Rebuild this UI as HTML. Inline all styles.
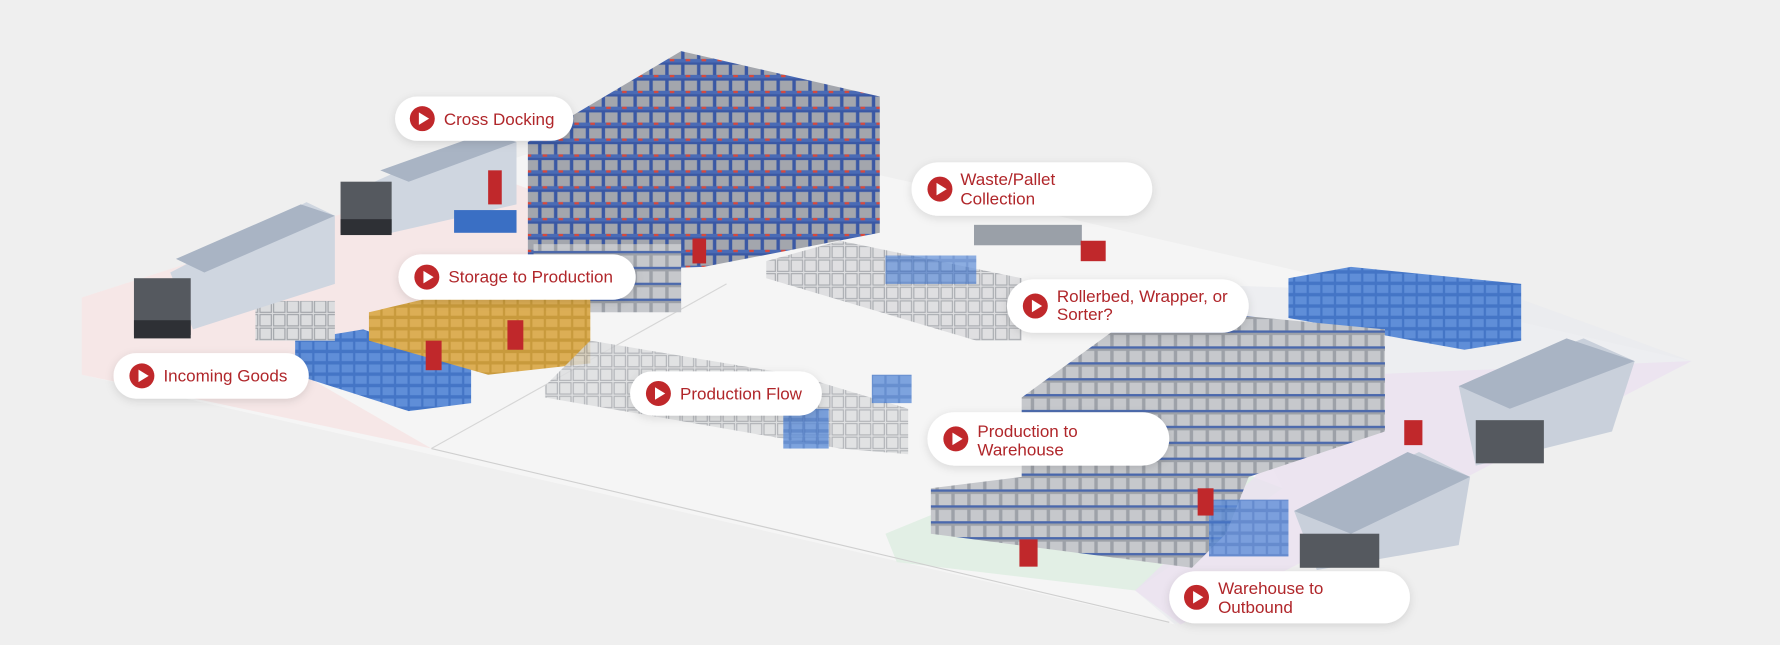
<!DOCTYPE html>
<html><head><meta charset="utf-8"><style>
html,body{margin:0;padding:0;background:#efefef;}
svg{display:block}
text{font-family:"Liberation Sans",sans-serif;fill:#b0262a;font-size:15px}
</style></head><body>
<svg width="1780" height="645" viewBox="0 0 1568 568" preserveAspectRatio="none">
<defs>
<filter id="sh" x="-20%" y="-40%" width="140%" height="180%"><feDropShadow dx="0" dy="2" stdDeviation="4" flood-color="#000" flood-opacity="0.12"/></filter>
<pattern id="rack" width="14" height="14" patternUnits="userSpaceOnUse"><rect width="14" height="14" fill="#9da1a8"/><rect x="1" y="1" width="11" height="10" fill="#c6c8cc"/><rect x="0" y="11" width="14" height="2" fill="#4a68ad"/></pattern>
<pattern id="rackr" width="14" height="14" patternUnits="userSpaceOnUse"><rect width="14" height="14" fill="#3a58a4"/><rect x="1" y="1" width="11" height="9" fill="#a3a6ad"/><rect x="0" y="10" width="14" height="3" fill="#4a6bb5"/><rect x="2" y="10" width="4" height="2" fill="#d9483b"/></pattern>
<pattern id="blue" width="12" height="10" patternUnits="userSpaceOnUse"><rect width="12" height="10" fill="#4475c6"/><rect x="1" y="1" width="10" height="7" fill="#5f8ed8"/></pattern>
<pattern id="gray" width="12" height="12" patternUnits="userSpaceOnUse"><rect width="12" height="12" fill="#dcdddf"/><rect x="1" y="1" width="10" height="10" fill="none" stroke="#a0a3a8" stroke-width="1"/></pattern>
<pattern id="tan" width="12" height="10" patternUnits="userSpaceOnUse"><rect width="12" height="10" fill="#c89a3c"/><rect x="1" y="1" width="10" height="7" fill="#dcae55"/></pattern>
</defs>
<rect width="1568" height="568" fill="#efefef"/>
<polygon points="72,262 560,105 1490,318 1035,550 72,330" fill="#f5f5f5"/>
<polygon points="72,262 420,150 560,200 250,320 380,395 72,330" fill="#f6e3e3" opacity="0.8"/>
<polygon points="780,470 1000,380 1130,430 1000,520 790,495" fill="#e0eee3" opacity="0.9"/>
<polygon points="1040,250 1330,260 1490,318 1035,550 1000,520 1130,430" fill="#e8e9ee" opacity="0.6"/>
<polygon points="1200,330 1490,318 1040,550 1000,520" fill="#ebe1f0" opacity="0.8"/>
<line x1="380" y1="395" x2="1030" y2="548" stroke="#cfcfcf"/>
<line x1="380" y1="395" x2="640" y2="250" stroke="#d6d6d6"/>
<polygon points="465,125 600,45 775,85 775,205 620,235 465,240" fill="url(#rackr)"/>
<rect x="470" y="215" width="130" height="60" fill="url(#rack)"/>
<polygon points="1135,245 1190,235 1340,250 1340,300 1290,308 1135,280" fill="url(#blue)"/>
<polygon points="900,350 1010,270 1220,290 1220,380 1100,420 1080,470 1050,500 820,470 820,430 900,420" fill="url(#rack)"/>
<rect x="1065" y="440" width="70" height="50" fill="url(#blue)" opacity="0.8"/>
<polygon points="260,300 320,290 415,325 415,355 360,362 260,330" fill="url(#blue)"/>
<polygon points="325,275 380,262 520,262 520,320 430,330 325,300" fill="url(#tan)"/>
<rect x="225" y="265" width="70" height="35" fill="url(#gray)"/>
<polygon points="675,230 740,212 900,245 900,300 860,300 675,245" fill="url(#gray)" opacity="0.9"/>
<rect x="780" y="225" width="80" height="25" fill="url(#blue)" opacity="0.7"/>
<polygon points="480,340 520,300 700,330 800,360 800,400 740,395 480,350" fill="url(#gray)" opacity="0.8"/>
<rect x="690" y="360" width="40" height="35" fill="url(#blue)" opacity="0.8"/>
<rect x="768" y="330" width="35" height="25" fill="url(#blue)" opacity="0.8"/>
<rect x="858" y="198" width="95" height="18" fill="#9aa0a8"/>
<rect x="952" y="212" width="22" height="18" fill="#c0282b"/>
<g>
<polygon points="150,240 270,178 295,190 295,250 170,290" fill="#cfd6e0"/>
<polygon points="155,228 265,180 295,190 180,240" fill="#a9b4c4"/>
<rect x="118" y="245" width="50" height="50" fill="#55595f"/>
<rect x="118" y="282" width="50" height="16" fill="#2e3035"/>
</g>
<g>
<polygon points="330,160 430,115 455,125 455,180 345,205" fill="#cfd6e0"/>
<polygon points="335,150 425,118 455,125 360,160" fill="#a9b4c4"/>
<rect x="300" y="160" width="45" height="45" fill="#55595f"/>
<rect x="300" y="193" width="45" height="14" fill="#2e3035"/>
<rect x="400" y="185" width="55" height="20" fill="#3a6fc4"/>
</g>
<g>
<polygon points="1285,340 1395,298 1440,318 1420,380 1300,410" fill="#c9d0db"/>
<polygon points="1285,340 1380,298 1440,318 1330,360" fill="#a9b4c4"/>
<rect x="1300" y="370" width="60" height="38" fill="#55595f"/>
</g>
<g>
<polygon points="1140,450 1250,398 1295,420 1285,480 1160,502" fill="#c9d0db"/>
<polygon points="1140,450 1240,398 1295,420 1190,470" fill="#a9b4c4"/>
<rect x="1145" y="470" width="70" height="30" fill="#55595f"/>
</g>
<rect x="447" y="282" width="14" height="26" fill="#c0282b"/>
<rect x="375" y="300" width="14" height="26" fill="#c0282b"/>
<rect x="898" y="475" width="16" height="24" fill="#c0282b"/>
<rect x="1055" y="430" width="14" height="24" fill="#c0282b"/>
<rect x="1237" y="370" width="16" height="22" fill="#c0282b"/>
<rect x="610" y="210" width="12" height="22" fill="#c0282b"/>
<rect x="430" y="150" width="12" height="30" fill="#c0282b"/>
<g filter="url(#sh)">
<rect x="348" y="85" width="157" height="39" rx="19.5" fill="#fff"/>
<rect x="351" y="224" width="209" height="40" rx="20" fill="#fff"/>
<rect x="100" y="311" width="172" height="40" rx="20" fill="#fff"/>
<rect x="555" y="327" width="169" height="39" rx="19.5" fill="#fff"/>
<rect x="803" y="143" width="212" height="47" rx="23.5" fill="#fff"/>
<rect x="887" y="246" width="213" height="47" rx="23.5" fill="#fff"/>
<rect x="817" y="363" width="213" height="47" rx="23.5" fill="#fff"/>
<rect x="1030" y="503" width="212" height="46" rx="23" fill="#fff"/>
</g>
<g fill="#c0282b">
<circle cx="372" cy="104.5" r="11"/><circle cx="376" cy="244" r="11"/><circle cx="125" cy="331" r="11"/><circle cx="580" cy="346.5" r="11"/>
<circle cx="828" cy="166.5" r="11"/><circle cx="912" cy="269.5" r="11"/><circle cx="842" cy="386.5" r="11"/><circle cx="1054" cy="526" r="11"/>
</g>
<g fill="#fff">
<polygon points="369,99 369,110 378,104.5"/><polygon points="373,238.5 373,249.5 382,244"/><polygon points="122,325.5 122,336.5 131,331"/><polygon points="577,341 577,352 586,346.5"/>
<polygon points="825,161 825,172 834,166.5"/><polygon points="909,264 909,275 918,269.5"/><polygon points="839,381 839,392 848,386.5"/><polygon points="1051,520.5 1051,531.5 1060,526"/>
</g>
<text x="391" y="110">Cross Docking</text>
<text x="395" y="249">Storage to Production</text>
<text x="144" y="336">Incoming Goods</text>
<text x="599" y="352">Production Flow</text>
<text x="846" y="163">Waste/Pallet</text><text x="846" y="180">Collection</text>
<text x="931" y="266">Rollerbed, Wrapper, or</text><text x="931" y="282">Sorter?</text>
<text x="861" y="385">Production to</text><text x="861" y="401">Warehouse</text>
<text x="1073" y="523">Warehouse to</text><text x="1073" y="540">Outbound</text>
</svg>
</body></html>
